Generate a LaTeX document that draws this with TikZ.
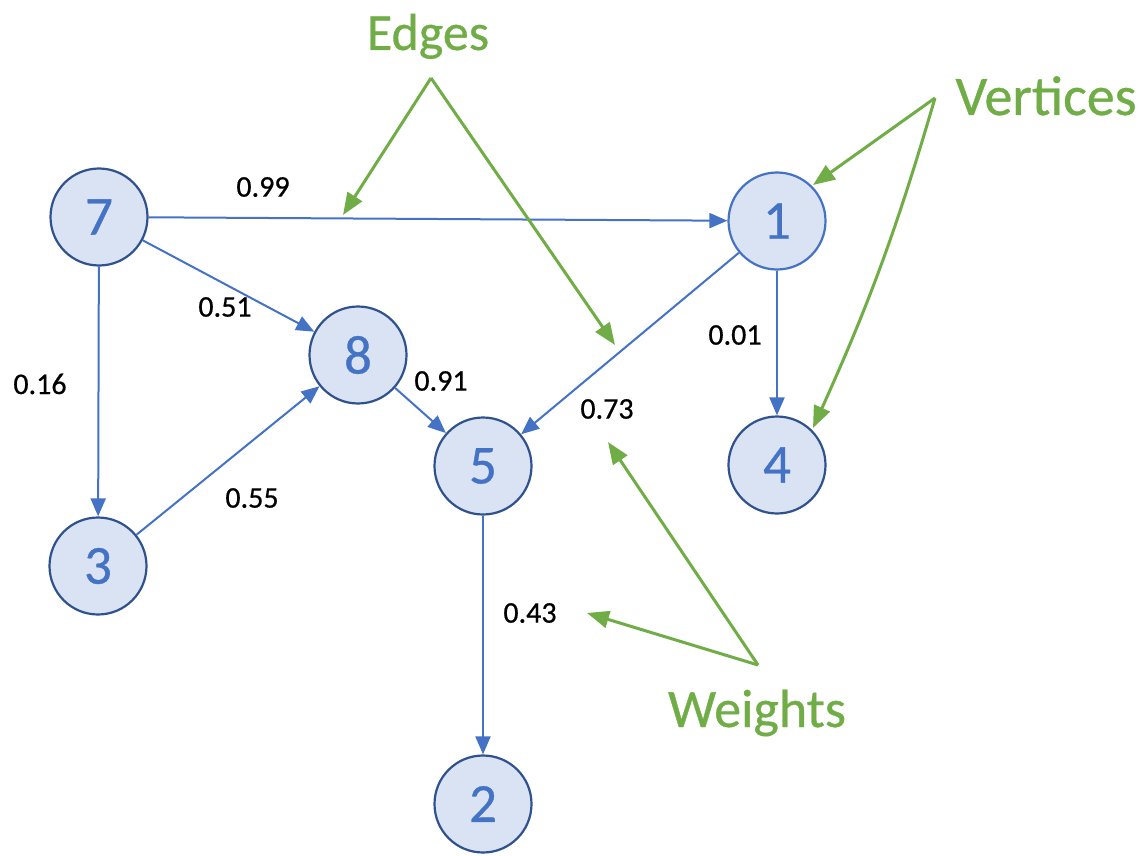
\documentclass[tikz,border=0pt]{standalone}
\usepackage{fontspec}
\setmainfont{Carlito}[FakeBold=0.6]
\usetikzlibrary{arrows.meta}
\definecolor{eblue}{HTML}{4472C4}
\definecolor{navy}{HTML}{2F528F}
\definecolor{vfill}{HTML}{DAE3F3}
\definecolor{agreen}{HTML}{70AD47}
\tikzset{
  vert/.style={circle, minimum size=97pt, inner sep=0pt, draw=navy, line width=2.2pt, fill=vfill, text=eblue, font=\fontsize{55}{60}\selectfont},
  edge/.style={draw=eblue, line width=2pt, -{Triangle[length=18pt,width=15pt]}},
  wlab/.style={font=\fontsize{30}{34}\selectfont, text=black, inner sep=0pt},
  gtxt/.style={font=\fontsize{52}{58}\selectfont, text=agreen, inner sep=0pt, anchor=base},
  garrow/.style={draw=agreen, line width=3pt, -{Triangle[length=22pt,width=17pt]}, line join=miter}
}
\begin{document}
\begin{tikzpicture}[x=1pt,y=-1pt]
\useasboundingbox (0,0) rectangle (1141,856);
% vertices
\node[vert] (v7) at (99,217) {7};
\node[vert, draw=eblue] (v1) at (777,221) {1};
\node[vert] (v8) at (358,355) {8};
\node[vert] (v5) at (483,466) {5};
\node[vert] (v4) at (777,465) {4};
\node[vert] (v3) at (98,566) {3};
\node[vert] (v2) at (483,804) {2};
% edges
\draw[edge] (v7) -- (v1);
\draw[edge] (v7) -- (v8);
\draw[edge] (v7) -- (v3);
\draw[edge] (v3) -- (v8);
\draw[edge] (v8) -- (v5);
\draw[edge] (v1) -- (v5);
\draw[edge] (v1) -- (v4);
\draw[edge] (v5) -- (v2);
% weights
\node[wlab] (w99) at (263,187) {0.99};
\node[wlab] (w51) at (225,307) {0.51};
\node[wlab] (w16) at (40,384) {0.16};
\node[wlab] (w91) at (441,381) {0.91};
\node[wlab] (w01) at (735,335) {0.01};
\node[wlab] (w73) at (607,409) {0.73};
\node[wlab] (w55) at (252,498) {0.55};
\node[wlab] (w43) at (530,613) {0.43};
% annotations
\node[gtxt] (tE) at (428,50) {Edges};
\node[gtxt, font=\fontsize{56}{62}\selectfont] (tV) at (1046,115) {Vertices};
\node[gtxt, font=\fontsize{54}{60}\selectfont] (tW) at (757,727) {Weights};
\coordinate (aE) at (431,78);
\coordinate (aE1) at (343,215);
\coordinate (aE2) at (615,345);
\coordinate (aV) at (935,98);
\coordinate (aV1) at (813,185);
\coordinate (aV2) at (813,428);
\coordinate (aW) at (758,665);
\coordinate (aW1) at (587,613);
\coordinate (aW2) at (608,442);
\draw[garrow] (aE) -- (aE1);
\draw[garrow] (aE) -- (aE2);
\draw[garrow] (aV) -- (aV1);
\draw[garrow] (aV) to[bend left=4] (aV2);
\draw[garrow] (aW) -- (aW1);
\draw[garrow] (aW) -- (aW2);
\end{tikzpicture}
\end{document}
